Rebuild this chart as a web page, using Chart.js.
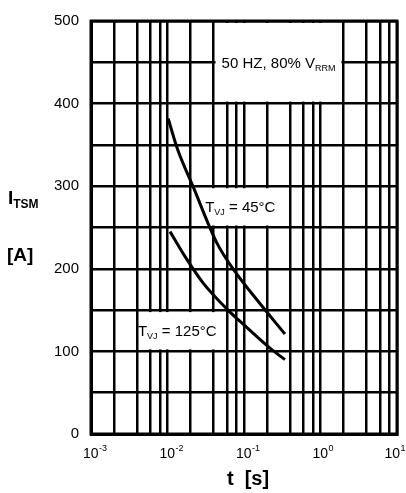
<!DOCTYPE html>
<html>
<head>
<meta charset="utf-8">
<script src="https://cdn.jsdelivr.net/npm/chart.js@4.4.1/dist/chart.umd.min.js"></script>
<style>
html, body { margin: 0; padding: 0; background: #fff; }
#wrap { position: relative; width: 406px; height: 493px; }
</style>
</head>
<body>
<div id="wrap"><canvas id="myChart" width="406" height="493"></canvas></div>
<script>
// Values (t in s, I in A)
const tvj45Time = [0.0102, 0.0135, 0.0215, 0.0443, 0.0785, 0.152, 0.343];
const tvj45Current = [382, 345, 300, 231, 195, 161, 121];
const tvj125Time = [0.0108, 0.0169, 0.0291, 0.0618, 0.106, 0.225, 0.343];
const tvj125Current = [245, 215, 183, 150, 130, 103, 90];

// Axis ticks (grid lines) and labels
const timeTicks = [
    0.001, 0.002, 0.004, 0.006, 0.008,
    0.01, 0.02, 0.04, 0.06, 0.08,
    0.1, 0.2, 0.4, 0.6, 0.8,
    1, 2, 4, 6, 8,
    10
];
const timeLabelExponents = [-3, -2, -1, 0, 1];
const currentTicks = [0, 50, 100, 150, 200, 250, 300, 350, 400, 450, 500];
const currentLabels = ['0', '', '100', '', '200', '', '300', '', '400', '', '500'];

// Boxed notes on the plot
const noteTexts = [
    ['50 HZ, 80% V', 'RRM', ''],
    ['T', 'VJ', ' = 45°C'],
    ['T', 'VJ', ' = 125°C']
];
const noteCells = [
    { t0: 0.04, t1: 2, i0: 400, i1: 500 },
    { t0: 0.02, t1: 0.4, i0: 250, i1: 300 },
    { t0: 0.004, t1: 0.045, i0: 100, i1: 150 }
];

const FONT = '"Liberation Sans", Arial, sans-serif';

function toPoints(xs, ys) {
    return xs.map((x, i) => ({ x: x, y: ys[i] }));
}

// measures a [main, subscript, main] line of text, centred on cx
function measureRich(ctx, parts, cx, size, subSize) {
    const mainFont = `${size}px ${FONT}`;
    const subFont = `${subSize}px ${FONT}`;
    ctx.font = mainFont;
    const w0 = ctx.measureText(parts[0]).width;
    const w2 = ctx.measureText(parts[2]).width;
    ctx.font = subFont;
    const w1 = ctx.measureText(parts[1]).width;
    return { x: cx - (w0 + w1 + w2) / 2, w0, w1, w2, mainFont, subFont };
}

const notesPlugin = {
    id: 'notes',
    beforeDatasetsDraw(chart) {
        const ctx = chart.ctx;
        const xs = chart.scales.x, ys = chart.scales.y;
        ctx.save();
        noteCells.forEach((c, n) => {
            const l = xs.getPixelForValue(c.t0) + 2;
            const r = xs.getPixelForValue(c.t1) - 2;
            const t = ys.getPixelForValue(c.i1) + 2;
            const b = ys.getPixelForValue(c.i0) - 2;
            ctx.fillStyle = '#fff';
            ctx.fillRect(l, t, r - l, b - t);

            const parts = noteTexts[n];
            const m = measureRich(ctx, parts, (l + r) / 2, 15, 9);
            const base = (t + b) / 2 + 5.5;
            ctx.fillStyle = '#000';
            ctx.textBaseline = 'alphabetic';
            ctx.textAlign = 'left';
            ctx.font = m.mainFont;
            ctx.fillText(parts[0], m.x, base);
            ctx.font = m.subFont;
            ctx.fillText(parts[1], m.x + m.w0, base + 3);
            ctx.font = m.mainFont;
            ctx.fillText(parts[2], m.x + m.w0 + m.w1, base);
        });
        ctx.restore();
    },
    afterDraw(chart) {
        const ctx = chart.ctx;
        const xs = chart.scales.x;
        const area = chart.chartArea;
        ctx.save();
        // frame round the plot
        ctx.strokeStyle = '#000';
        ctx.lineWidth = 3;
        ctx.strokeRect(area.left, area.top, area.right - area.left, area.bottom - area.top);

        ctx.fillStyle = '#000';
        ctx.textBaseline = 'alphabetic';
        ctx.textAlign = 'left';

        // x tick labels 10^n
        timeLabelExponents.forEach(e => {
            const px = xs.getPixelForValue(Math.pow(10, e));
            ctx.font = `14px ${FONT}`;
            const wb = ctx.measureText('10').width;
            ctx.font = `9px ${FONT}`;
            const ex = e < 0 ? '-' + (-e) : String(e);
            const we = ctx.measureText(ex).width;
            const x0 = Math.min(px - 8, chart.width - wb - we - 1);
            ctx.font = `14px ${FONT}`;
            ctx.fillText('10', x0, 458);
            ctx.font = `9px ${FONT}`;
            ctx.fillText(ex, x0 + wb + 0.5, 451);
        });

        // x axis title
        ctx.font = `bold 20px ${FONT}`;
        ctx.textAlign = 'center';
        ctx.fillText('t  [s]', (area.left + area.right) / 2 + 4, 485);

        // y axis title
        ctx.textAlign = 'left';
        ctx.font = `bold 19px ${FONT}`;
        ctx.fillText('I', 8, 204);
        const wi = ctx.measureText('I').width;
        ctx.font = `bold 12px ${FONT}`;
        ctx.fillText('TSM', 8 + wi, 208);
        ctx.font = `bold 19px ${FONT}`;
        ctx.fillText('[A]', 7, 261);
        ctx.restore();
    }
};

const data = {
    datasets: [
        {
            label: 'TVJ = 45°C',
            data: toPoints(tvj45Time, tvj45Current),
            borderColor: '#000',
            borderWidth: 3,
            pointRadius: 0,
            fill: false,
            cubicInterpolationMode: 'monotone'
        },
        {
            label: 'TVJ = 125°C',
            data: toPoints(tvj125Time, tvj125Current),
            borderColor: '#000',
            borderWidth: 3,
            pointRadius: 0,
            fill: false,
            cubicInterpolationMode: 'monotone'
        }
    ]
};

const config = {
    type: 'line',
    data: data,
    options: {
        responsive: false,
        animation: false,
        layout: {
            padding: { top: 14, right: 9, left: 0, bottom: 0 }
        },
        plugins: {
            legend: { display: false },
            tooltip: { enabled: false }
        },
        events: [],
        scales: {
            x: {
                type: 'logarithmic',
                min: 0.001,
                max: 10,
                afterBuildTicks: (scale) => {
                    scale.ticks = timeTicks.map(v => ({ value: v }));
                },
                afterFit: (scale) => { scale.height = 59; },
                grid: {
                    color: '#000',
                    lineWidth: 2.5,
                    drawTicks: false
                },
                border: { display: true, color: '#000', width: 3 },
                ticks: { display: false, autoSkip: false }
            },
            y: {
                type: 'linear',
                min: 0,
                max: 500,
                afterBuildTicks: (scale) => {
                    scale.ticks = currentTicks.map(v => ({ value: v }));
                },
                afterFit: (scale) => { scale.width = 91; },
                grid: {
                    color: '#000',
                    lineWidth: 2.5,
                    drawTicks: false
                },
                border: { display: true, color: '#000', width: 3 },
                ticks: {
                    autoSkip: false,
                    padding: 12,
                    color: '#000',
                    font: { family: FONT, size: 15 },
                    callback: (v, i) => currentLabels[i]
                }
            }
        }
    },
    plugins: [notesPlugin]
};

const ctx = document.getElementById('myChart').getContext('2d');
const currentChart = new Chart(ctx, config);
</script>
</body>
</html>
